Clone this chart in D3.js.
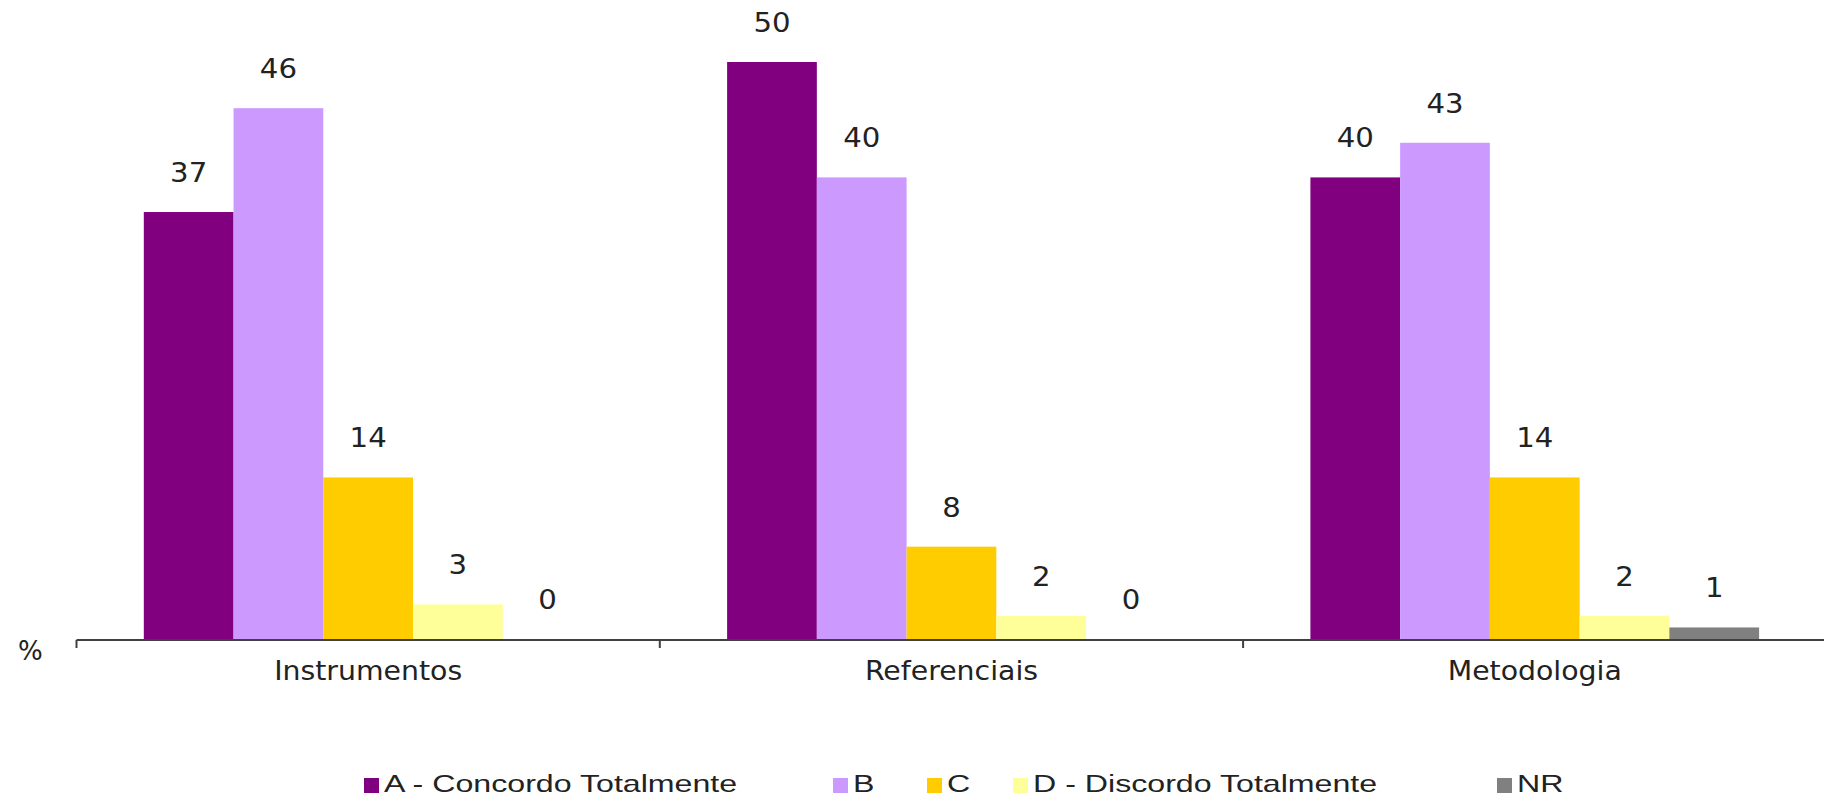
<!DOCTYPE html>
<html>
<head>
  <meta charset="utf-8">
  <title>Avaliação por categoria</title>
  <script src="https://d3js.org/d3.v7.min.js"></script>
  <style>
    body { margin: 0; background: #fff; }
  </style>
</head>
<body>
  <svg id="grafico"></svg>

  <script>
    // Dados
    const categorias = ["Instrumentos", "Referenciais", "Metodologia"];
    const series = ["A - Concordo Totalmente", "B", "C", "D - Discordo Totalmente", "NR"];
    const cores = ["#800080", "#CC99FF", "#FFCC00", "#FFFF99", "#808080"];
    const valores = [
      [37, 46, 14, 3, 0],   // Instrumentos
      [50, 40, 8, 2, 0],    // Referenciais
      [40, 43, 14, 2, 1]    // Metodologia
    ];

    // posição x das entradas da legenda
    const legendaX = [364, 833, 927, 1013, 1497];

    const largura = 1824, altura = 798;
    const base = 639;

    const svg = d3.select("#grafico")
                  .attr("width", largura)
                  .attr("height", altura)
                  .style("font-family", "'DejaVu Sans', Verdana, sans-serif");

    // Escalas
    const x0 = d3.scaleBand()
                 .domain(categorias)
                 .range([76.5, 76.5 + 3 * 583.3]);

    const x1 = d3.scaleBand()
                 .domain(series)
                 .range([0, x0.bandwidth()])
                 .paddingInner(0)
                 .paddingOuter(0.75);

    const y = d3.scaleLinear()
                .domain([0, 55])
                .range([base, base - 55 * 11.54]);

    // Barras
    const grupos = svg.selectAll("g.grupo")
                      .data(valores)
                      .enter()
                      .append("g")
                      .attr("class", "grupo")
                      .attr("transform", (d, i) => `translate(${x0(categorias[i])},0)`);

    const barras = grupos.selectAll("g.barra")
                         .data(d => d.map((v, j) => ({ serie: series[j], cor: cores[j], valor: v })))
                         .enter()
                         .append("g")
                         .attr("class", "barra");

    barras.append("rect")
          .attr("x", d => x1(d.serie))
          .attr("y", d => y(d.valor))
          .attr("width", x1.bandwidth())
          .attr("height", d => base - y(d.valor))
          .attr("fill", d => d.cor);

    // Rótulos de dados
    barras.append("text")
          .text(d => d.valor)
          .attr("transform", d => `translate(${x1(d.serie) + x1.bandwidth() / 2},${y(d.valor) - 30}) scale(1.08,1)`)
          .attr("text-anchor", "middle")
          .attr("font-size", 27)
          .attr("fill", "#222");

    // Eixo x (linha e marcas entre categorias)
    svg.append("line")
       .attr("x1", x0.range()[0])
       .attr("x2", x0.range()[1])
       .attr("y1", base + 1)
       .attr("y2", base + 1)
       .attr("stroke", "#404040")
       .attr("stroke-width", 2);

    const limites = categorias.map(c => x0(c)).concat([x0.range()[1]]);
    svg.selectAll("line.marca")
       .data(limites)
       .enter()
       .append("line")
       .attr("class", "marca")
       .attr("x1", d => d)
       .attr("x2", d => d)
       .attr("y1", base + 1)
       .attr("y2", base + 9)
       .attr("stroke", "#404040")
       .attr("stroke-width", 2);

    svg.selectAll("text.categoria")
       .data(categorias)
       .enter()
       .append("text")
       .attr("class", "categoria")
       .text(d => d)
       .attr("transform", d => `translate(${x0(d) + x0.bandwidth() / 2},680) scale(1.05,1)`)
       .attr("text-anchor", "middle")
       .attr("font-size", 27)
       .attr("fill", "#222");

    // Unidade
    svg.append("text")
       .text("%")
       .attr("x", 18)
       .attr("y", 660)
       .attr("font-size", 26)
       .attr("fill", "#222");

    // Legenda
    const legenda = svg.selectAll("g.legenda")
                       .data(series)
                       .enter()
                       .append("g")
                       .attr("class", "legenda")
                       .attr("transform", (d, i) => `translate(${legendaX[i]},0)`);

    legenda.append("rect")
           .attr("x", 0)
           .attr("y", 778)
           .attr("width", 15)
           .attr("height", 15)
           .attr("fill", (d, i) => cores[i]);

    legenda.append("text")
           .text(d => d)
           .attr("transform", "translate(20,792) scale(1.34,1)")
           .style("font-family", "'Liberation Sans', Arial, sans-serif")
           .attr("font-size", 24)
           .attr("fill", "#222");
  </script>
</body>
</html>
